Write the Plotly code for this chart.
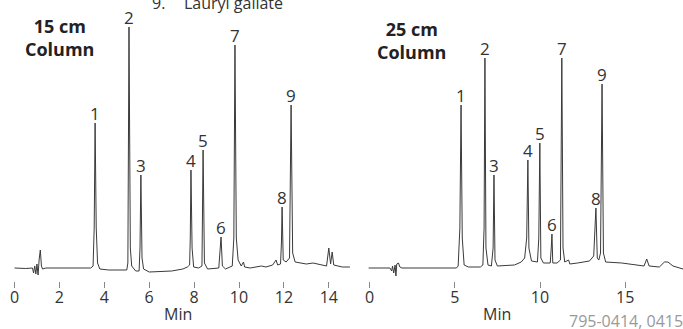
import plotly.graph_objects as go

# ---- 15 cm column trace (time in min, detector signal, arbitrary units) ----
t15 = [0.0, 0.5, 0.8, 0.85, 0.9, 0.95, 1.0, 1.05, 1.1, 1.15, 1.2, 1.25, 1.4,
       3.4, 3.5, 3.55, 3.59, 3.64, 3.7, 3.8, 4.2, 5.0, 5.05, 5.10, 5.16, 5.22,
       5.4, 5.55, 5.59, 5.63, 5.68, 5.75, 6.0, 7.0, 7.5, 7.7, 7.8, 7.83, 7.86,
       7.91, 7.98, 8.2, 8.35, 8.40, 8.46, 8.6, 9.1, 9.20, 9.26, 9.4, 9.7, 9.77,
       9.82, 9.88, 9.96, 10.1, 10.2, 10.25, 10.5, 10.8, 11.0, 11.2, 11.5, 11.65,
       11.72, 11.85, 11.89, 11.92, 11.97, 12.1, 12.25, 12.32, 12.39, 12.5, 13.0,
       13.3, 13.9, 14.0, 14.08, 14.15, 14.22, 14.6, 14.94]
s15 = [0, -0.5, 0, -5, 2, -6, 4, -7, 9, 18, 2, -1, 0,
       0, 2, 40, 145, 40, 5, -1, -2, -2, 5, 241, 20, 2,
       -3, -3, 20, 93, 10, -1, -4, -3, -1, 1, 3, 30, 98,
       20, 1, 0, 2, 118, 5, -1, 0, 31, 2, -1, 2, 30,
       223, 30, 8, 2, 6, 1, 0, 1, 2, 1, 3, 8,
       3, 4, 25, 61, 8, 6, 10, 163, 15, 6, 4,
       5, 2, 20, 4, 16, 3, 1, 1]

# ---- 25 cm column trace ----
t25 = [-0.05, 1.2, 1.3, 1.35, 1.42, 1.5, 1.55, 1.6, 1.7, 1.78, 1.9, 5.1, 5.2,
       5.3, 5.37, 5.44, 5.55, 5.8, 6.5, 6.65, 6.72, 6.77, 6.83, 6.95, 7.15,
       7.25, 7.30, 7.36, 7.5, 8.5, 8.9, 9.1, 9.22, 9.29, 9.35, 9.5, 9.85,
       9.93, 9.99, 10.05, 10.2, 10.6, 10.66, 10.70, 10.75, 11.0, 11.2, 11.28,
       11.35, 11.45, 11.68, 11.75, 12.2, 12.9, 13.15, 13.28, 13.36, 13.45,
       13.55, 13.64, 13.72, 13.85, 14.8, 15.5, 16.1, 16.26, 16.4, 17.0, 17.3,
       17.5, 17.8, 18.39]
s25 = [0, 0, -3, 2, -5, 3, -8, 4, 5, 1, 0, 0, 2,
       40, 163, 30, 3, 1, 1, 3, 40, 210, 20, 3, 2,
       20, 93, 8, 2, 3, 6, 10, 30, 108, 20, 7, 6,
       30, 125, 10, 5, 5, 20, 34, 5, 5, 8, 210,
       20, 6, 8, 4, 5, 7, 12, 60, 10, 8,
       15, 184, 15, 6, 5, 3, 2, 9, 2, 1, 6,
       6, 2, -1]

# ---- peak labels ----
peak_names = ["1", "2", "3", "4", "5", "6", "7", "8", "9"]
peak_t15 = [3.59, 5.10, 5.63, 7.86, 8.40, 9.20, 9.82, 11.92, 12.32]
peak_h15 = [145, 241, 93, 98, 118, 31, 223, 61, 163]
peak_t25 = [5.37, 6.77, 7.30, 9.29, 9.99, 10.70, 11.28, 13.28, 13.64]
peak_h25 = [163, 210, 93, 108, 125, 34, 210, 60, 184]

ticks15 = [0, 2, 4, 6, 8, 10, 12, 14]
ticks25 = [0, 5, 10, 15]

FONT = "Open Sans"
TXT = "#333333"
W, H = 683, 329

fig = go.Figure()
fig.add_trace(go.Scatter(x=t15, y=s15, mode="lines", xaxis="x", yaxis="y",
                         line=dict(color="#3a3a3a", width=1), hoverinfo="skip"))
fig.add_trace(go.Scatter(x=t25, y=s25, mode="lines", xaxis="x2", yaxis="y2",
                         line=dict(color="#3a3a3a", width=1), hoverinfo="skip"))

ann = []
for n, t, h in zip(peak_names, peak_t15, peak_h15):
    ann.append(dict(x=t, y=h, xref="x", yref="y", text=n, showarrow=False,
                    yanchor="bottom", yshift=-4, font=dict(family=FONT, size=17, color=TXT)))
for n, t, h in zip(peak_names, peak_t25, peak_h25):
    ann.append(dict(x=t, y=h, xref="x2", yref="y2", text=n, showarrow=False,
                    yanchor="bottom", yshift=-4, font=dict(family=FONT, size=17, color=TXT)))

def px(x, y):
    return x / W, 1 - y / H

# column titles
for xc, yc, txt in [(59, 38, "<b>15 cm<br>Column</b>"), (411, 40, "<b>25 cm<br>Column</b>")]:
    xx, yy = px(xc, yc)
    ann.append(dict(x=xx, y=yy, xref="paper", yref="paper", text=txt, showarrow=False,
                    xanchor="center", yanchor="middle", align="center",
                    font=dict(family=FONT, size=18, color="#222222")))
# "Min" labels
for xc in [178, 497]:
    xx, yy = px(xc, 314)
    ann.append(dict(x=xx, y=yy, xref="paper", yref="paper", text="Min", showarrow=False,
                    xanchor="center", yanchor="middle", borderpad=0,
                    font=dict(family=FONT, size=16, color=TXT)))
# cut-off legend line at top
xx, yy = px(150, 3)
ann.append(dict(x=xx, y=yy, xref="paper", yref="paper", text="9.", showarrow=False,
                xanchor="left", yanchor="middle", font=dict(family=FONT, size=16, color=TXT)))
xx, yy = px(182, 3)
ann.append(dict(x=xx, y=yy, xref="paper", yref="paper", text="Lauryl gallate", showarrow=False,
                xanchor="left", yanchor="middle", font=dict(family=FONT, size=16, color=TXT)))
# figure code
xx, yy = px(683, 320.5)
ann.append(dict(x=xx, y=yy, xref="paper", yref="paper", text="795-0414, 0415", showarrow=False,
                xanchor="right", yanchor="middle", xshift=2,
                font=dict(family=FONT, size=16, color="#999999")))

axpos = (H - 281) / H
common_x = dict(anchor="free", position=axpos, showgrid=False, zeroline=False, showline=False,
                ticks="outside", ticklen=6, tickwidth=1, tickcolor="#888888",
                ticklabelstandoff=-4,
                tickfont=dict(family=FONT, size=16, color=TXT), tickmode="array")

fig.update_layout(
    width=W, height=H, margin=dict(l=0, r=0, t=0, b=0),
    paper_bgcolor="white", plot_bgcolor="white", showlegend=False,
    xaxis=dict(domain=[0, 352 / W], range=[-14.5 / 22.45, (352 - 14.5) / 22.45],
               tickvals=ticks15, **common_x),
    xaxis2=dict(domain=[358 / W, 1], range=[(358 - 369.5) / 17.05, (683 - 369.5) / 17.05],
                tickvals=ticks25, **common_x),
    yaxis=dict(domain=[0, 1], range=[-61, 268], visible=False),
    yaxis2=dict(domain=[0, 1], range=[-61, 268], visible=False, anchor="x2"),
    annotations=ann,
)
fig.write_html("out.html", config={"staticPlot": True},
               post_script="document.body.style.margin='0';document.body.style.overflow='hidden';")
